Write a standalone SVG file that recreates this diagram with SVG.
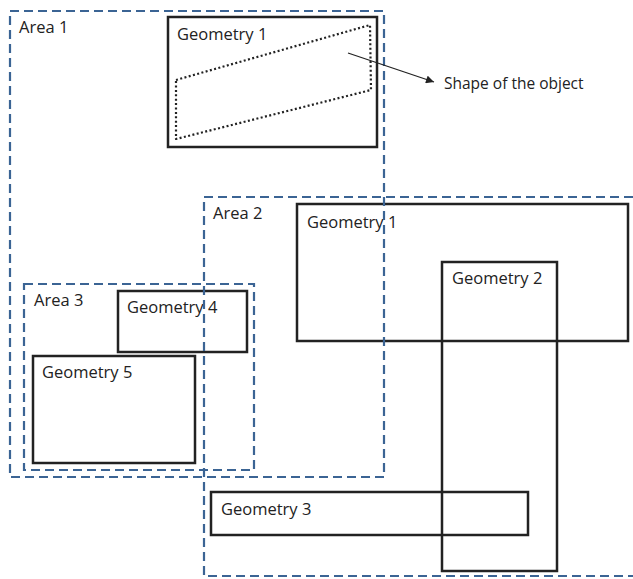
<svg xmlns="http://www.w3.org/2000/svg" width="633" height="579" viewBox="0 0 633 579">
<defs>
<style>
.geo{fill:none;stroke:#222;stroke-width:2.5}
.area{fill:none;stroke:#3B6494;stroke-width:2.2;stroke-dasharray:9 5}
.shape{fill:none;stroke:#222;stroke-width:2.2;stroke-dasharray:2 2.4;stroke-linejoin:round}
text{font-family:"Open Sans","Noto Sans","Liberation Sans",sans-serif;font-size:16.5px;fill:#222}
text.note{font-size:15.5px}
</style>
<marker id="ah" viewBox="0 0 10 10" refX="10" refY="5" markerWidth="10" markerHeight="8" markerUnits="userSpaceOnUse" orient="auto">
<path d="M0,0 L10,5 L0,10 z" fill="#222"/>
</marker>
</defs>
<rect width="633" height="579" fill="#fff"/>
<g id="geometry1-top">
<rect class="geo" x="168" y="17" width="209" height="130"/>
<text x="177" y="40">Geometry 1</text>
<path class="shape" d="M176,80 L370,25 L371,90 L176,139 Z"/>
</g>
<g id="geometry1-area2">
<rect class="geo" x="297" y="204" width="331" height="137"/>
<text x="307" y="228">Geometry 1</text>
</g>
<g id="geometry2">
<rect class="geo" x="442" y="262" width="115" height="309"/>
<text x="452" y="284">Geometry 2</text>
</g>
<g id="geometry3">
<rect class="geo" x="211" y="492" width="317" height="43"/>
<text x="221" y="515">Geometry 3</text>
</g>
<g id="geometry4">
<rect class="geo" x="118" y="291" width="129" height="61"/>
<text x="127" y="313">Geometry 4</text>
</g>
<g id="geometry5">
<rect class="geo" x="33" y="356" width="162" height="107"/>
<text x="42" y="378">Geometry 5</text>
</g>
<g id="area1">
<rect class="area" x="10" y="11" width="374" height="466"/>
<text x="19" y="33">Area 1</text>
</g>
<g id="area2">
<rect class="area" x="204" y="197" width="440" height="379"/>
<text x="213" y="219">Area 2</text>
</g>
<g id="area3">
<rect class="area" x="24" y="284" width="230" height="186"/>
<text x="34" y="306">Area 3</text>
</g>
<g id="label-shape">
<text class="note" x="444" y="89">Shape of the object</text>
</g>
<g id="connectors">
<line x1="348" y1="53" x2="434" y2="82" stroke="#222" stroke-width="1.3" marker-end="url(#ah)"/>
</g>
</svg>
